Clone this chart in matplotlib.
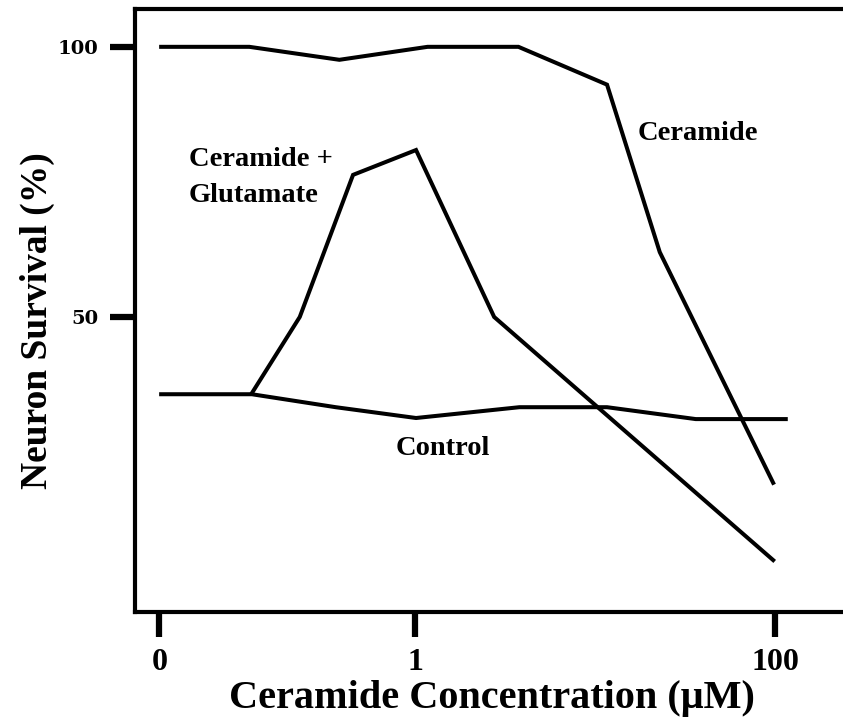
import matplotlib
matplotlib.use('Agg')
import matplotlib.pyplot as plt

# Posição no eixo x em décadas (log10 da concentração); "0" fica num ponto à parte
x_tick_pos = [-1.42, 0.0, 2.0]
x_tick_labels = ['0', '1', '100']
y_ticks = [50, 100]

# Ceramide
cer_x = [-1.41, -0.92, -0.42, 0.07, 0.575, 1.067, 1.36, 1.99]
cer_y = [100, 100, 97.6, 100, 100, 93.0, 62.0, 19.3]

# Ceramide + Glutamate
glu_x = [-0.906, -0.64, -0.344, 0.006, 0.44, 1.99]
glu_y = [35.9, 50.0, 76.3, 80.9, 50.0, 5.0]

# Control
ctl_x = [-1.41, -0.906, -0.44, 0.006, 0.58, 1.067, 1.56, 2.06]
ctl_y = [35.7, 35.7, 33.3, 31.3, 33.3, 33.3, 31.1, 31.1]

serif = ['Liberation Serif', 'DejaVu Serif']

fig = plt.figure(figsize=(8.43, 7.21), dpi=100)
ax = fig.add_axes([0.160, 0.151, 0.840, 0.8365])

lw = 2.9
ax.plot(cer_x, cer_y, color='black', lw=lw, solid_joinstyle='miter')
ax.plot(glu_x, glu_y, color='black', lw=lw, solid_joinstyle='miter')
ax.plot(ctl_x, ctl_y, color='black', lw=lw, solid_joinstyle='miter')

ax.set_xlim(-1.556, 2.378)
ax.set_ylim(-4.63, 107.0)

for s in ['left', 'bottom', 'top']:
    ax.spines[s].set_linewidth(3.0)
ax.spines['right'].set_visible(False)

ax.set_xticks(x_tick_pos)
ax.set_xticklabels(x_tick_labels, fontfamily=serif, fontweight='bold', fontsize=23)
ax.set_yticks(y_ticks)
ax.set_yticklabels([str(v) for v in y_ticks], fontfamily='DejaVu Serif',
                   fontweight='bold', fontsize=14)
ax.tick_params(axis='x', length=18, width=4.5, pad=8, direction='out')
ax.tick_params(axis='y', length=18, width=4.5, pad=8, direction='out')

ax.set_xlabel('Ceramide Concentration (μM)', fontfamily=serif, fontweight='bold',
              fontsize=29, va='center')
ax.xaxis.set_label_coords(0.504, -0.143)
ax.set_ylabel('Neuron Survival (%)', fontfamily=serif, fontweight='bold',
              fontsize=27, va='center')
ax.yaxis.set_label_coords(-0.137, 0.484)

txt = dict(fontfamily=serif, fontweight='bold', fontsize=20.5, va='baseline', ha='left')
ax.text(1.239, 82.8, 'Ceramide', **txt)
ax.text(-1.256, 78.0, 'Ceramide +', **txt)
ax.text(-1.256, 71.35, 'Glutamate', **txt)
ax.text(-0.108, 24.4, 'Control', **txt)

fig.savefig('out.png', dpi=100)
